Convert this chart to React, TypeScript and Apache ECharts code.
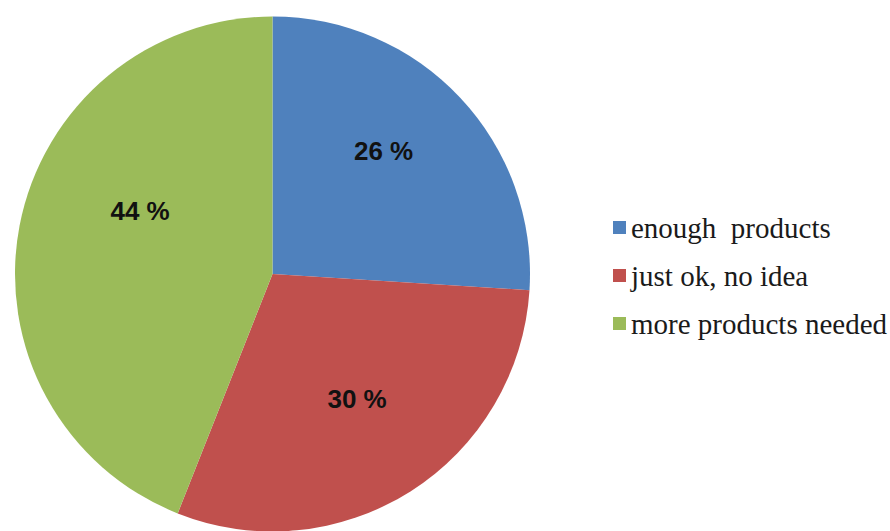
import React, { useEffect, useRef } from "react";
import * as echarts from "echarts";

const categories = ["enough  products", "just ok, no idea", "more products needed"];
const values = [26, 30, 44];
const colors = ["#4F81BD", "#C0504D", "#9BBB59"];
// label nudges (pixels) relative to the default inside position
const labelOffsets: [number, number][] = [
  [15, -33],
  [14, 14],
  [-3, -38],
];

export default function App() {
  const ref = useRef<HTMLDivElement>(null);
  useEffect(() => {
    if (!ref.current) return;
    const chart = echarts.init(ref.current, undefined, { renderer: "svg" });
    chart.setOption({
      animation: false,
      backgroundColor: "#ffffff",
      legend: {
        orient: "vertical",
        left: 608,
        top: 208,
        itemWidth: 13,
        itemHeight: 13,
        itemGap: 19,
        icon: "rect",
        data: categories,
        textStyle: {
          fontFamily: "'Liberation Serif', 'Times New Roman', serif",
          fontSize: 29,
          color: "#1a1a1a",
        },
      },
      series: [
        {
          type: "pie",
          center: [272.5, 274],
          radius: [0, 257.5],
          startAngle: 90,
          clockwise: true,
          avoidLabelOverlap: false,
          label: {
            show: true,
            position: "inside",
            formatter: (p: any) => `${p.value} %`,
            fontFamily: "'Liberation Sans', Arial, sans-serif",
            fontWeight: "bold",
            fontSize: 26,
            color: "#111111",
          },
          labelLine: { show: false },
          itemStyle: { borderWidth: 0 },
          emphasis: { disabled: true },
          data: categories.map((name, i) => ({
            name,
            value: values[i],
            itemStyle: { color: colors[i] },
            label: { offset: labelOffsets[i] },
          })),
        },
      ],
    });
    return () => chart.dispose();
  }, []);
  return (
    <div
      ref={ref}
      style={{ position: "fixed", left: 0, top: 0, width: 890, height: 531 }}
    />
  );
}
